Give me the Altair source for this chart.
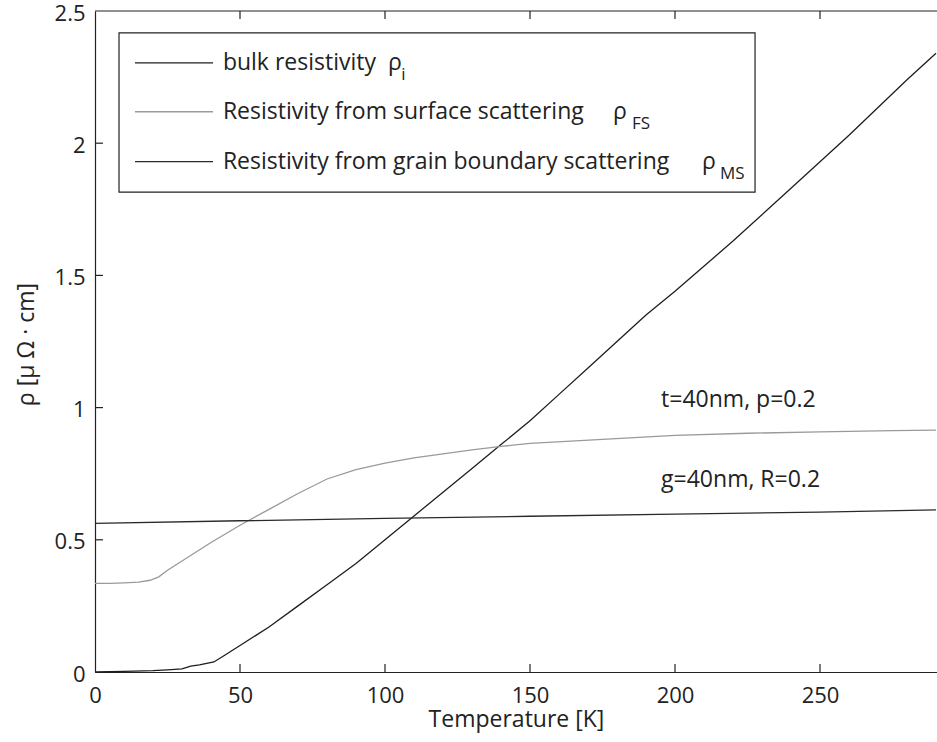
import altair as alt
import pandas as pd

# ---------------- data ----------------
T_bulk = [0, 10, 20, 25, 30, 33, 36, 41, 45, 50, 60, 70, 80, 90, 100, 110, 120, 130,
          140, 150, 160, 170, 180, 190, 200, 220, 240, 260, 280, 290]
rho_bulk = [0.0, 0.002, 0.005, 0.008, 0.012, 0.022, 0.027, 0.038, 0.065, 0.10, 0.17,
            0.25, 0.33, 0.41, 0.50, 0.59, 0.68, 0.77, 0.86, 0.95, 1.05, 1.15, 1.25,
            1.35, 1.44, 1.63, 1.83, 2.03, 2.24, 2.34]

T_fs = [0, 5, 10, 15, 19, 22, 25, 30, 35, 40, 50, 60, 70, 80, 90, 100, 110, 120, 130,
        140, 150, 175, 200, 225, 250, 275, 290]
rho_fs = [0.335, 0.335, 0.337, 0.340, 0.347, 0.360, 0.385, 0.420, 0.455, 0.490, 0.555,
          0.615, 0.675, 0.730, 0.765, 0.790, 0.810, 0.825, 0.840, 0.853, 0.865, 0.880,
          0.895, 0.903, 0.908, 0.913, 0.915]

T_ms = [0, 50, 100, 150, 200, 250, 290]
rho_ms = [0.562, 0.572, 0.581, 0.589, 0.597, 0.605, 0.613]

series_names = ["bulk", "fs", "ms"]
series_colors = ["#1e1e1e", "#9a9a9a", "#2a2a2a"]

legend_labels = ["bulk resistivity",
                 "Resistivity from surface scattering",
                 "Resistivity from grain boundary scattering"]
legend_rho_x = [101.0, 178.6, 209.3]
legend_sub = ["i", "FS", "MS"]
legend_sub_x = [105.6, 185.2, 215.5]
legend_row_y = [2.304, 2.119, 1.930]

annot_text = ["t=40nm, p=0.2", "g=40nm, R=0.2"]
annot_x = [195.2, 195.2]
annot_y = [1.029, 0.726]

x_tick_values = [0, 50, 100, 150, 200, 250]
y_tick_values = [0, 0.5, 1, 1.5, 2, 2.5]

XMAX = 842 / 2.9
FONT = "Open Sans"
TXT = "#222222"

# ---------------- frames ----------------
lines_df = pd.concat([
    pd.DataFrame({"T": T_bulk, "rho": rho_bulk, "series": "bulk"}),
    pd.DataFrame({"T": T_fs, "rho": rho_fs, "series": "fs"}),
    pd.DataFrame({"T": T_ms, "rho": rho_ms, "series": "ms"}),
], ignore_index=True)

xs = alt.Scale(domain=[0, XMAX], nice=False, zero=False)
ys = alt.Scale(domain=[0, 2.5], nice=False, zero=False)
cs = alt.Scale(domain=series_names, range=series_colors)

X_AX = alt.Axis(
    values=x_tick_values, title="Temperature [K]", ticks=False, tickSize=0,
    grid=False, domainColor="#222", domainWidth=1.2,
    labelFont=FONT, labelFontSize=22, labelColor=TXT, labelPadding=13,
    labelBaseline="top", labelFlush=False,
    titleFont=FONT, titleFontSize=23, titleFontWeight="normal", titleColor=TXT,
    titleBaseline="alphabetic", titleY=54, titleX=421)
Y_AX = alt.Axis(
    values=y_tick_values, format="~g", title="ρ [μ Ω · cm]", ticks=False, tickSize=0,
    grid=False, domainColor="#222", domainWidth=1.2,
    labelFont=FONT, labelFontSize=22, labelColor=TXT, labelPadding=10,
    labelFlush=False, labelOffset=2,
    titleFont=FONT, titleFontSize=23, titleFontWeight="normal", titleColor=TXT,
    titleBaseline="middle", titleX=-69, titleY=333, titleAngle=270)


def X(f):
    return alt.X(f, scale=xs, axis=X_AX, title="Temperature [K]")


def Y(f):
    return alt.Y(f, scale=ys, axis=Y_AX, title="ρ [μ Ω · cm]")


lines = alt.Chart(lines_df).mark_line(strokeWidth=1.3).encode(
    x=X("T:Q"), y=Y("rho:Q"),
    color=alt.Color("series:N", scale=cs, legend=None),
    detail="series:N",
)

# inward ticks
tick_len_y = 8 / 264.4
tick_len_x = 8 / 2.9
bt = pd.DataFrame({"T": x_tick_values[1:], "rho": 0.0, "rho2": tick_len_y})
tt = pd.DataFrame({"T": x_tick_values[1:], "rho": 2.5, "rho2": 2.5 - tick_len_y})
lt = pd.DataFrame({"rho": y_tick_values[1:-1], "T": 0.0, "T2": tick_len_x})

bottom_ticks = alt.Chart(bt).mark_rule(color="#222", strokeWidth=1.2).encode(
    x=X("T:Q"), y=Y("rho:Q"), y2="rho2:Q")
top_ticks = alt.Chart(tt).mark_rule(color="#222", strokeWidth=1.2).encode(
    x=X("T:Q"), y=Y("rho:Q"), y2="rho2:Q")
left_ticks = alt.Chart(lt).mark_rule(color="#222", strokeWidth=1.2).encode(
    x=X("T:Q"), x2="T2:Q", y=Y("rho:Q"))

top_border = alt.Chart(pd.DataFrame({"T": [0.0], "T2": [XMAX], "rho": [2.5]})).mark_rule(
    color="#222", strokeWidth=1.2).encode(
    x=X("T:Q"), x2="T2:Q", y=Y("rho:Q"))

# legend box
box_df = pd.DataFrame({"T": [8.28], "T2": [227.6], "rho": [2.417], "rho2": [1.815]})
legend_box = alt.Chart(box_df).mark_rect(fill="white", stroke="#222", strokeWidth=1.2).encode(
    x=X("T:Q"), x2="T2:Q", y=Y("rho:Q"), y2="rho2:Q")

leg_df = pd.DataFrame({
    "series": series_names, "label": legend_labels, "rho": legend_row_y,
    "T": [13.8] * 3, "T2": [40.7] * 3, "Tt": [44.1] * 3,
    "Tr": legend_rho_x, "sub": legend_sub, "Ts": legend_sub_x,
})
leg_lines = alt.Chart(leg_df).mark_rule(strokeWidth=1.3).encode(
    x=X("T:Q"), x2="T2:Q", y=Y("rho:Q"),
    color=alt.Color("series:N", scale=cs, legend=None))
leg_text = alt.Chart(leg_df).mark_text(
    font=FONT, fontSize=23, color=TXT, align="left", baseline="middle").encode(
    x=X("Tt:Q"), y=Y("rho:Q"), text="label:N")
leg_rho = alt.Chart(leg_df).mark_text(
    font=FONT, fontSize=23, color=TXT, align="left", baseline="middle").encode(
    x=X("Tr:Q"), y=Y("rho:Q"), text=alt.value("ρ"))
leg_sub = alt.Chart(leg_df).mark_text(
    font=FONT, fontSize=17, color=TXT, align="left", baseline="middle", dy=12).encode(
    x=X("Ts:Q"), y=Y("rho:Q"), text="sub:N")

ann_df = pd.DataFrame({"T": annot_x, "rho": annot_y, "t": annot_text})
annots = alt.Chart(ann_df).mark_text(
    font=FONT, fontSize=23, color=TXT, align="left", baseline="middle").encode(
    x=X("T:Q"), y=Y("rho:Q"), text="t:N")

chart = alt.layer(
    lines, bottom_ticks, top_ticks, left_ticks, top_border,
    legend_box, leg_lines, leg_text, leg_rho, leg_sub, annots
).properties(
    width=842, height=661,
    autosize=alt.AutoSizeParams(type="none"),
    padding={"left": 95, "top": 11, "right": 0, "bottom": 70},
    background="white",
).configure_view(stroke=None)

chart.save("out.html", embed_options={"renderer": "svg", "actions": False})
